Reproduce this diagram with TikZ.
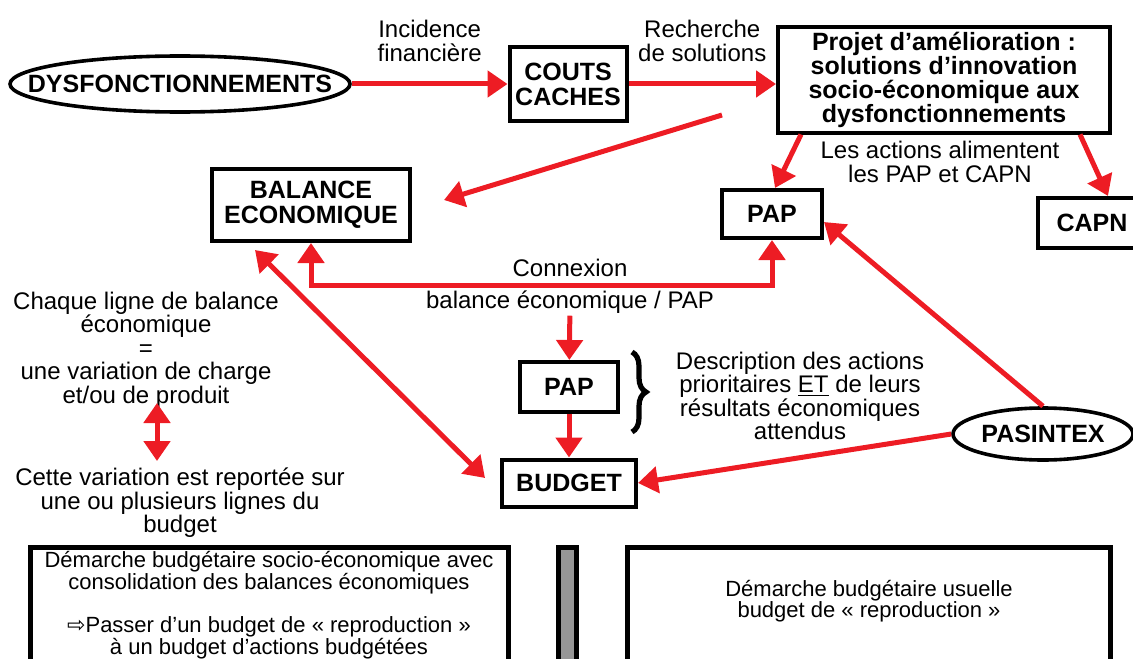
\documentclass[tikz,border=0pt]{standalone}
\usepackage{fontspec}
\setmainfont{Liberation Sans}
\newfontfamily\symbfont{DejaVu Sans}
\usetikzlibrary{arrows.meta,shapes.geometric,decorations.pathreplacing}
\definecolor{linkred}{RGB}{237,28,36}
\definecolor{bargray}{RGB}{150,150,150}
\tikzset{
  >={Triangle[length=10pt,width=13pt]},
  box/.style={draw,line width=2pt,align=center,inner sep=1pt,
    font=\fontsize{12.5}{12.5}\selectfont\bfseries},
  oval/.style={draw,ellipse,line width=1.8pt,inner sep=0pt,
    font=\fontsize{12.5}{13}\selectfont\bfseries},
  lbl/.style={align=center,inner sep=1pt,font=\fontsize{12}{11.7}\selectfont},
  small/.style={lbl,font=\fontsize{11}{10.8}\selectfont},
  panel/.style={draw,line width=2.5pt,minimum height=70pt,anchor=north},
  link/.style={->,draw=linkred,line width=2.5pt},
}

\begin{document}
\begin{tikzpicture}[x=0.5pt,y=-0.5pt]
  \useasboundingbox (0,0) rectangle (1133,658);

  \node[oval,minimum width=170pt,minimum height=28pt] (dysf) at (180,84) {\makebox[0pt]{DYSFONCTIONNEMENTS}};
  \node[box,minimum width=58.5pt,minimum height=37pt] (couts) at (568,84) {COUTS\\CACHES};
  \node[box,minimum width=166pt,minimum height=52.5pt,font=\fontsize{12.5}{12}\selectfont\bfseries] (projet) at (944,80)
    {Projet d’amélioration :\\solutions d’innovation\\socio-économique aux\\dysfonctionnements};
  \node[box,minimum width=99pt,minimum height=36pt] (bal) at (311,205) {BALANCE\\ECONOMIQUE};
  \node[box,minimum width=50pt,minimum height=24pt] (papA) at (772,214) {PAP};
  \node[box,minimum width=54pt,minimum height=25pt] (capn) at (1092,223) {CAPN};
  \node[box,minimum width=49pt,minimum height=25pt] (papB) at (569,387) {PAP};
  \node[box,minimum width=67pt,minimum height=23.5pt] (budget) at (569,483) {BUDGET};
  \node[oval,minimum width=90pt,minimum height=26pt] (pasintex) at (1043,434) {\makebox[0pt]{PASINTEX}};

  \node[lbl] (actions) at (940,162) {Les actions alimentent\\les PAP et CAPN};
  \node[lbl] (cnx) at (570,268) {Connexion};
  \node[lbl] (cnxb) at (570,302) {balance économique / PAP};
  \node[lbl] (descr) at (800,396) {Description des actions\\prioritaires \underline{ET} de leurs\\résultats économiques\\attendus};
  \node[lbl] (ligne) at (146,350) {Chaque ligne de balance\\économique\\=\\une variation de charge\\et/ou de produit};
  \node[lbl] (report) at (180,503) {Cette variation est reportée sur\\une ou plusieurs lignes du\\budget};

  \coordinate (src) at (722,115);
  \coordinate (baltip) at (444,200);
  \coordinate (up) at (157,403);
  \coordinate (down) at (157,461);

  \draw[link] (dysf) -- node[lbl,above=9pt]{Incidence\\financière} (couts);
  \draw[link] (couts) -- node[lbl,above=9pt]{Recherche\\de solutions} (couts -| projet.west);
  \draw[link] (src) -- (baltip);
  \draw[link] ([xshift=12.5pt]projet.south west) -- ([xshift=1.5pt]papA.north);
  \draw[link] ([xshift=-16pt]projet.south east) -- ([xshift=8pt]capn.north);
  \draw[link,<->] (bal.south) -- ++(0,42) -| (papA.south);
  \draw[link] (cnxb) -- (papB);
  \draw[link] (papB) -- (budget);
  \draw[link] (pasintex.north) -- ([yshift=-4pt]papA.east);
  \draw[link] (pasintex.west) -- (budget.east);
  \draw[link,<->] ([xshift=22.5pt,yshift=-3.5pt]bal.south west) -- ([xshift=-7.5pt,yshift=2.5pt]budget.west);
  \draw[link,<->] (up) -- (down);

  \draw[line width=2.6pt,decorate,decoration={brace,amplitude=7pt}] (632,352) -- (632,432);

  % panneaux du bas
  \node[panel,minimum width=239pt] (socioframe) at (269,545) {};
  \node[panel,fill=bargray,minimum width=9pt] (bar) at (567.5,545) {};
  \node[panel,minimum width=241.5pt] (usualframe) at (868.5,545) {};
  \node[small] (socio) at (269,605) {Démarche budgétaire socio-économique avec\\consolidation des balances économiques\\[10.8pt]{\symbfont ⇨}Passer d’un budget de « reproduction »\\à un budget d’actions budgétées};
  \node[small] (usual) at (869,601) {Démarche budgétaire usuelle\\budget de « reproduction »};
\end{tikzpicture}
\end{document}
